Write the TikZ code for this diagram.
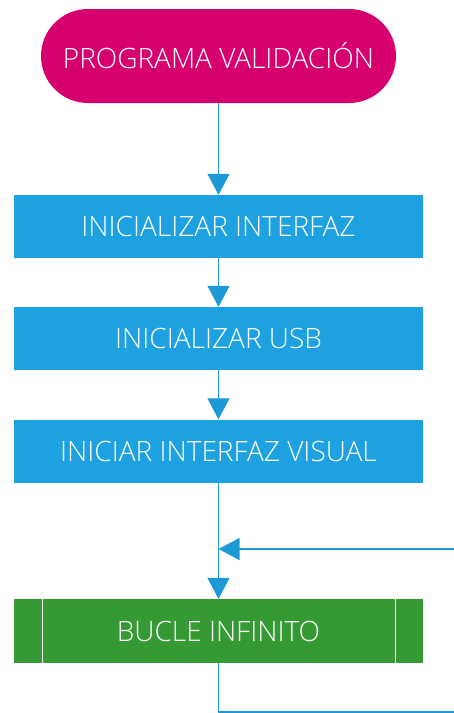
\documentclass[tikz,border=0pt]{standalone}
\usepackage{fontspec}
\setmainfont{Open Sans}[UprightFont=* Light]
\usetikzlibrary{arrows.meta}
\definecolor{rosa}{HTML}{D6006F}
\definecolor{azul}{HTML}{1DA1E0}
\definecolor{flecha}{HTML}{1B9AD6}
\definecolor{verde}{HTML}{359A34}
\tikzset{
	caja/.style={rectangle, fill=azul, text=white, minimum width=409pt, minimum height=63pt, inner sep=0pt},
	inicio/.style={rectangle, rounded corners=47pt, fill=rosa, text=white, minimum width=355pt, minimum height=94pt, inner sep=0pt},
	bucle/.style={rectangle, fill=verde, text=white, minimum width=409pt, minimum height=64pt, inner sep=0pt},
	flujo/.style={draw=flecha, line width=1.3pt, -{Triangle[width=22pt,length=21pt]}}
}
\begin{document}
\begin{tikzpicture}[x=1pt, y=-1pt, font=\fontsize{28}{32}\selectfont, line join=round]
	\useasboundingbox (0,0) rectangle (454,713);
	\clip (0,0) rectangle (454,713);
	\node[inicio] (prog) at (218.5,56) {\raisebox{2pt}{PROGRAMA VALIDACIÓN}};
	\node[caja] (ini) at (218.5,226.5) {INICIALIZAR INTERFAZ};
	\node[caja] (usb) at (218.5,338.5) {INICIALIZAR USB};
	\node[caja] (vis) at (218.5,451) {INICIAR INTERFAZ VISUAL};
	\node[bucle] (inf) at (218.5,631) {BUCLE INFINITO};
	\draw[white, line width=1pt] ([xshift=29pt]inf.north west) -- ([xshift=29pt]inf.south west);
	\draw[white, line width=1pt] ([xshift=-28pt]inf.north east) -- ([xshift=-28pt]inf.south east);
	\coordinate (union) at (218.5,549);
	\coordinate (abajo) at (218.5,712);
	\coordinate (dcha) at (470,712);
	\coordinate (retorno) at (470,549);
	\draw[flujo] (prog) -- (ini);
	\draw[flujo] (ini) -- (usb);
	\draw[flujo] (usb) -- (vis);
	\draw[flujo] (vis) -- (inf);
	\draw[flujo] (inf.south) -- (abajo) -- (dcha) -- (retorno) -- (union);
\end{tikzpicture}
\end{document}
